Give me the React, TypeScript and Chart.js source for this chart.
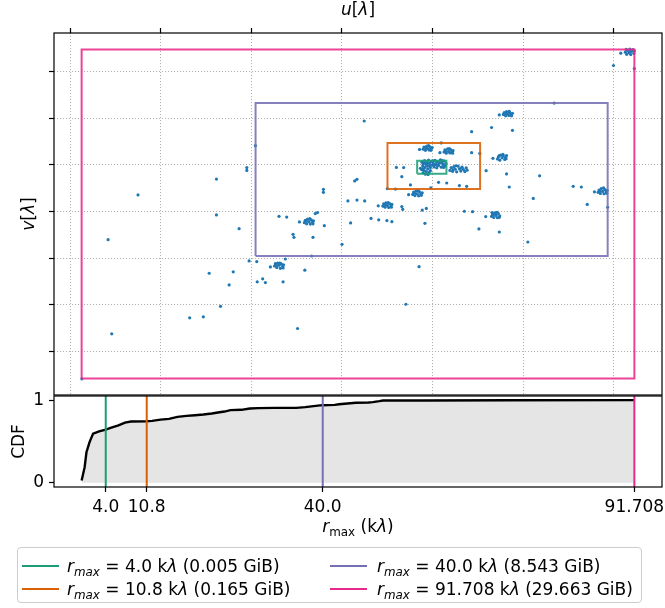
import React, { useEffect, useRef } from 'react';
import { Chart, registerables } from 'chart.js';

Chart.register(...registerables);

const FONT = '"DejaVu Sans", "Liberation Sans", sans-serif';
const FS = 17;

// ---- top panel (uv coverage) ----
const uTicks = [-60, -40, -20, 0, 20, 40, 60];
const vTicks = [-60, -40, -20, 0, 20, 40, 60];

// r_max selections
const rmaxValues = [4.0, 10.8, 40.0, 91.708];
const rmaxLabels = ['4.0', '10.8', '40.0', '91.708'];
const rmaxSizesGiB = ['0.005', '0.165', '8.543', '29.663'];
const rmaxColors = ['#1b9e77', '#d95f02', '#7570b3', '#e7298a'];

// bounding boxes of the uv samples kept for each r_max
const boxUMin = [16.58, 10.03, -19.07, -57.44];
const boxUMax = [23.04, 30.47, 58.61, 64.5];
const boxVMin = [16.2, 9.64, -19.07, -71.66];
const boxVMax = [21.77, 29.36, 46.5, 69.48];

// scattered uv samples [u, v]
const scatteredUV = [
  [-45.0, 7.1], [-27.7, 13.9], [-21.0, 18.8], [-21.0, 17.6], [-19.1, 28.2], [-27.7, -1.5], [4.9, 38.8],
  [21.9, 29.4], [17.1, 26.6], [21.6, 25.2], [12.0, 18.9], [13.6, 18.8], [17.3, 18.5], [13.2, 14.9],
  [21.3, 12.5], [23.1, 12.2], [15.1, 11.4], [19.6, 10.1], [10.0, 9.8], [11.8, 9.6], [25.9, 11.1],
  [27.5, 10.8], [14.7, 7.2], [2.8, 13.1], [3.3, 13.8], [-4.1, 9.5], [-4.1, 8.2], [1.3, 4.5], [3.3, 4.9],
  [5.0, 4.5], [8.0, 2.4], [13.2, 2.1], [13.4, 0.9], [17.7, 0.6], [18.6, 1.3], [-5.9, -0.9], [-5.4, -0.5],
  [61.5, 67.9], [59.9, 62.6], [64.5, 61.3], [46.8, 46.5], [34.7, 41.4], [28.6, 34.2], [33.0, 36.0],
  [37.6, 34.8], [28.6, 25.2], [30.4, 24.9], [33.3, 22.8], [31.8, 17.5], [36.3, 16.1], [43.6, 15.3],
  [36.9, 10.5], [51.0, 10.8], [52.8, 10.5], [42.2, 5.6], [55.7, 8.4], [54.1, 3.0], [58.6, 1.8],
  [27.0, 0.1], [28.8, -0.1], [31.7, -2.2], [30.2, -7.5], [34.7, -8.8], [41.0, -13.1], [-51.6, -12.1],
  [-22.7, -7.4], [-20.5, -21.2], [-18.8, -21.5], [-29.3, -26.5], [-24.0, -25.9], [-24.9, -31.5],
  [-18.7, -30.2], [-17.5, -28.9], [-26.8, -40.7], [-33.6, -45.6], [-30.6, -45.2], [-50.8, -52.5],
  [-57.4, -71.8], [-13.9, -2.1], [-12.2, -2.4], [-9.4, -4.5], [-3.9, -6.1], [1.9, -4.9], [6.4, -3.0],
  [8.1, -3.6], [9.9, -3.9], [11.0, -4.4], [18.3, -5.1], [-10.8, -9.8], [-10.6, -11.1], [-6.4, -11.1],
  [0.0, -14.1], [-6.7, -19.1], [-12.5, -20.4], [-15.8, -23.8], [-8.2, -25.2], [-16.9, -30.5],
  [-13.0, -30.2], [17.0, -23.7], [14.1, -39.8], [-9.8, -50.2],
];

// dense groups of uv samples [u, v]
const groupTopRight = [
  [62.5, 68.3], [62.8, 67.4], [63.0, 69.0], [63.3, 68.1], [63.5, 69.6], [63.7, 67.3], [63.9, 68.7],
  [64.2, 69.4], [64.4, 67.8], [64.5, 68.9], [62.7, 69.5], [63.6, 68.4],
];
const groupUpper = [
  [35.6, 41.6], [35.8, 42.4], [36.1, 41.0], [36.3, 42.8], [36.5, 41.9], [36.8, 41.2], [37.0, 42.5],
  [37.3, 41.7], [37.6, 42.1], [36.0, 41.9], [36.9, 42.9], [37.4, 41.0],
];
const groupA = [
  [17.9, 26.7], [18.1, 27.6], [18.4, 26.2], [18.7, 28.0], [18.9, 27.0], [19.2, 26.4], [19.4, 27.7],
  [19.7, 26.9], [19.9, 27.4], [18.5, 27.3], [19.1, 28.2], [19.6, 26.2],
];
const groupB = [
  [22.5, 25.5], [22.7, 26.4], [23.0, 25.0], [23.3, 26.8], [23.5, 25.7], [23.8, 25.1], [24.0, 26.4],
  [24.3, 25.6], [24.5, 26.1], [22.9, 25.9], [23.7, 27.0], [24.4, 25.0],
];
const groupC = [
  [34.3, 22.5], [34.5, 23.4], [34.8, 22.0], [35.0, 24.2], [35.3, 23.0], [35.6, 23.8], [35.9, 22.3],
  [36.1, 23.2], [36.3, 24.0], [34.7, 24.0], [35.5, 24.5], [36.2, 22.6],
];
const groupCore = [
  [17.6, 21.2], [17.8, 19.6], [17.9, 20.5], [18.2, 21.8], [18.3, 18.9], [18.5, 20.2], [18.7, 21.1],
  [18.9, 19.4], [19.1, 22.0], [19.3, 20.6], [19.5, 18.8], [19.7, 21.5], [19.9, 19.9], [20.1, 20.9],
  [20.3, 19.1], [20.5, 21.9], [20.7, 20.3], [20.9, 18.7], [21.1, 21.3], [21.3, 19.7], [21.5, 20.7],
  [21.7, 22.1], [21.9, 19.0], [22.1, 21.0], [22.3, 20.1], [22.5, 21.7], [22.7, 19.4], [22.9, 20.6],
  [20.0, 21.7], [21.0, 19.8], [18.0, 20.9], [22.0, 21.9], [17.6, 17.9], [17.9, 16.6], [18.1, 17.6],
  [18.4, 16.0], [18.6, 17.1], [18.9, 18.2], [19.2, 16.7], [19.5, 17.5], [17.8, 18.4], [19.0, 15.9],
  [19.4, 19.6], [20.4, 20.0], [21.4, 21.0], [22.4, 18.9], [18.8, 20.6], [20.8, 21.5],
];
const groupD = [
  [23.8, 17.6], [24.1, 18.8], [24.4, 17.2], [24.7, 19.2], [25.0, 18.1], [25.3, 17.0], [25.6, 19.4],
  [25.9, 18.3], [26.2, 17.3], [26.5, 19.0], [26.8, 18.0], [27.1, 17.1], [27.4, 18.7], [27.6, 17.7],
  [25.1, 19.6], [26.3, 18.6], [24.5, 18.0],
];
const groupE = [
  [15.6, 7.3], [15.8, 8.3], [16.1, 6.8], [16.3, 8.7], [16.6, 7.6], [16.9, 6.7], [17.1, 8.4],
  [17.4, 7.5], [17.7, 8.0], [16.0, 7.8], [16.8, 8.9], [17.5, 6.9],
];
const groupF = [
  [9.0, 2.3], [9.2, 3.3], [9.5, 1.8], [9.7, 3.7], [10.0, 2.6], [10.3, 1.7], [10.5, 3.4],
  [10.8, 2.4], [11.0, 3.0], [9.4, 2.8], [10.2, 3.8], [10.9, 1.8],
];
const groupG = [
  [56.5, 8.2], [56.7, 9.2], [57.0, 7.7], [57.2, 9.8], [57.5, 8.6], [57.8, 7.6], [58.0, 9.4],
  [58.3, 8.4], [58.5, 9.0], [56.9, 8.7], [57.7, 10.1], [58.4, 7.8],
];
const groupH = [
  [33.0, -2.1], [33.2, -1.1], [33.5, -2.6], [33.7, -0.6], [34.0, -1.7], [34.3, -2.7], [34.5, -0.9],
  [34.8, -1.9], [33.4, -1.5], [34.2, -0.4], [34.7, -2.5], [33.1, -0.5],
];
const groupI = [
  [-8.3, -4.8], [-8.1, -3.8], [-7.8, -5.3], [-7.6, -3.3], [-7.3, -4.4], [-7.0, -5.4], [-6.8, -3.6],
  [-6.5, -4.6], [-6.3, -4.0], [-7.9, -4.2], [-7.1, -3.1], [-6.4, -5.3],
];
const groupJ = [
  [-14.9, -23.4], [-14.7, -22.4], [-14.4, -24.0], [-14.2, -22.2], [-13.9, -23.1], [-13.6, -24.4],
  [-13.4, -22.5], [-13.1, -23.5], [-12.9, -22.9], [-14.5, -23.0], [-13.7, -22.1], [-13.0, -24.2],
];

// ---- bottom panel (CDF) ----
const cdfR = [0.0, 0.5, 0.8, 1.3, 1.9, 2.9, 4.0, 4.8, 6.1, 7.2, 8.2, 10.7, 11.7, 13.1, 14.5, 15.9, 17.4,
  18.8, 20.2, 21.6, 22.6, 23.7, 24.7, 26.5, 27.9, 29.3, 32.1, 35.6, 37.1, 38.5, 39.9, 42.0, 42.7, 44.1,
  45.5, 47.6, 48.3, 49.4, 50.0, 56.7, 70.8, 91.708];
const cdfP = [0.028, 0.19, 0.37, 0.49, 0.595, 0.623, 0.644, 0.664, 0.696, 0.729, 0.741, 0.745, 0.749,
  0.765, 0.773, 0.798, 0.81, 0.818, 0.826, 0.838, 0.85, 0.862, 0.879, 0.883, 0.899, 0.903, 0.907, 0.907,
  0.915, 0.927, 0.939, 0.943, 0.951, 0.96, 0.968, 0.972, 0.976, 0.988, 0.996, 0.996, 0.998, 1.0];
const cdfTicks = [0, 1];
const cdfTickLabels = ['0', '1'];

type Run = { t: string; it?: boolean; sub?: boolean };

function drawRuns(ctx: CanvasRenderingContext2D, runs: Run[], x: number, y: number, rotate: boolean) {
  ctx.save();
  ctx.translate(x, y);
  if (rotate) ctx.rotate(-Math.PI / 2);
  const fontFor = (r: Run) => `${r.it ? 'italic ' : ''}${r.sub ? FS * 0.7 : FS}px ${FONT}`;
  let w = 0;
  for (const r of runs) {
    ctx.font = fontFor(r);
    w += ctx.measureText(r.t).width;
  }
  let cx = -w / 2;
  ctx.textAlign = 'left';
  ctx.textBaseline = 'alphabetic';
  ctx.fillStyle = '#000';
  for (const r of runs) {
    ctx.font = fontFor(r);
    ctx.fillText(r.t, cx, r.sub ? FS * 0.24 : 0);
    cx += ctx.measureText(r.t).width;
  }
  ctx.restore();
}

const framePlugin = {
  id: 'frame',
  afterDraw(chart: any) {
    const { ctx, chartArea: a } = chart;
    ctx.save();
    ctx.strokeStyle = '#000';
    ctx.lineWidth = 1.2;
    ctx.strokeRect(a.left, a.top, a.right - a.left, a.bottom - a.top);
    ctx.restore();
  },
};

const topTitlesPlugin = {
  id: 'topTitles',
  afterDraw(chart: any) {
    const { ctx, chartArea: a } = chart;
    drawRuns(ctx, [{ t: 'u', it: true }, { t: '[' }, { t: 'λ', it: true }, { t: ']' }], (a.left + a.right) / 2, a.top - 18.5, false);
    drawRuns(ctx, [{ t: 'v', it: true }, { t: '[' }, { t: 'λ', it: true }, { t: ']' }], a.left - 20, (a.top + a.bottom) / 2, true);
  },
};

const bottomTitlesPlugin = {
  id: 'bottomTitles',
  afterDraw(chart: any) {
    const { ctx, chartArea: a } = chart;
    drawRuns(ctx, [{ t: 'CDF' }], a.left - 30.5, (a.top + a.bottom) / 2, true);
    drawRuns(ctx, [{ t: 'r', it: true }, { t: 'max', sub: true }, { t: ' (k' }, { t: 'λ', it: true }, { t: ')' }], (a.left + a.right) / 2, a.bottom + 45, false);
  },
};

const vLinesPlugin = {
  id: 'vlines',
  afterDatasetsDraw(chart: any) {
    const { ctx, chartArea: a, scales } = chart;
    ctx.save();
    rmaxValues.forEach((r, i) => {
      const x = scales.x.getPixelForValue(r);
      ctx.strokeStyle = rmaxColors[i];
      ctx.lineWidth = 2;
      ctx.beginPath();
      ctx.moveTo(x, a.top);
      ctx.lineTo(x, a.bottom);
      ctx.stroke();
    });
    ctx.restore();
  },
};

const toXY = (arr: number[][]) => arr.map(([x, y]) => ({ x, y }));

export default function App() {
  const topRef = useRef<HTMLCanvasElement>(null);
  const botRef = useRef<HTMLCanvasElement>(null);

  useEffect(() => {
    const last = boxUMin.length - 1;
    const uSpan = boxUMax[last] - boxUMin[last];
    const vSpan = boxVMax[last] - boxVMin[last];
    const uLo = boxUMin[last] - 0.05 * uSpan;
    const uHi = boxUMax[last] + 0.05 * uSpan;
    const vLo = boxVMin[last] - 0.05 * vSpan;
    const vHi = boxVMax[last] + 0.05 * vSpan;

    const allPoints = [
      ...scatteredUV, ...groupTopRight, ...groupUpper, ...groupA, ...groupB, ...groupC, ...groupCore,
      ...groupD, ...groupE, ...groupF, ...groupG, ...groupH, ...groupI, ...groupJ,
    ];

    const boxDatasets = rmaxValues.map((_, i) => ({
      data: [
        { x: boxUMin[i], y: boxVMin[i] },
        { x: boxUMax[i], y: boxVMin[i] },
        { x: boxUMax[i], y: boxVMax[i] },
        { x: boxUMin[i], y: boxVMax[i] },
        { x: boxUMin[i], y: boxVMin[i] },
      ],
      showLine: true,
      borderColor: rmaxColors[i] + 'e0',
      borderWidth: 2,
      borderJoinStyle: 'miter' as const,
      pointRadius: 0,
      pointHoverRadius: 0,
      fill: false,
      tension: 0,
      order: 0,
    }));

    const gridCommon = { color: '#b0b0b0', lineWidth: 1, tickColor: '#000', tickWidth: 1.2, tickLength: 5 };

    const top = new Chart(topRef.current!, {
      type: 'scatter',
      data: {
        datasets: [
          ...boxDatasets,
          {
            data: toXY(allPoints),
            pointRadius: 1.6,
            pointHoverRadius: 1.6,
            pointBorderWidth: 0,
            pointBackgroundColor: '#1f77b4',
            backgroundColor: '#1f77b4',
            order: 1,
          },
        ] as any,
      },
      options: {
        responsive: false,
        animation: false,
        events: [],
        layout: { padding: { left: 0, top: 0, right: 3, bottom: 5 }, autoPadding: false },
        plugins: { legend: { display: false }, tooltip: { enabled: false }, title: { display: false } },
        scales: {
          x: {
            type: 'linear',
            position: 'top',
            min: uLo,
            max: uHi,
            afterBuildTicks: (s: any) => { s.ticks = uTicks.map((value) => ({ value })); },
            ticks: { display: false },
            grid: gridCommon,
            border: { display: false, dash: [1.1, 1.9] },
            afterFit: (s: any) => { s.height = 33; s.paddingLeft = 0; s.paddingRight = 0; },
          },
          y: {
            type: 'linear',
            position: 'left',
            min: vLo,
            max: vHi,
            afterBuildTicks: (s: any) => { s.ticks = vTicks.map((value) => ({ value })); },
            ticks: { display: false },
            grid: gridCommon,
            border: { display: false, dash: [1.1, 1.9] },
            afterFit: (s: any) => { s.width = 54; s.paddingTop = 0; s.paddingBottom = 0; },
          },
        },
      } as any,
      plugins: [framePlugin, topTitlesPlugin],
    });

    const rSpan = cdfR[cdfR.length - 1] - cdfR[0];
    const tickFont = { family: FONT, size: FS };
    const bottom = new Chart(botRef.current!, {
      type: 'line',
      data: {
        datasets: [
          {
            data: cdfR.map((r, i) => ({ x: r, y: cdfP[i] })),
            borderColor: '#000',
            borderWidth: 2.4,
            pointRadius: 0,
            pointHoverRadius: 0,
            fill: 'origin',
            backgroundColor: '#e5e5e5',
            tension: 0,
          },
        ],
      },
      options: {
        responsive: false,
        animation: false,
        events: [],
        layout: { padding: { left: 0, top: 16, right: 3, bottom: 0 }, autoPadding: false },
        plugins: { legend: { display: false }, tooltip: { enabled: false }, title: { display: false } },
        scales: {
          x: {
            type: 'linear',
            position: 'bottom',
            min: cdfR[0] - 0.05 * rSpan,
            max: cdfR[cdfR.length - 1] + 0.05 * rSpan,
            afterBuildTicks: (s: any) => { s.ticks = rmaxValues.map((value) => ({ value })); },
            ticks: {
              autoSkip: false,
              maxRotation: 0,
              minRotation: 0,
              padding: 5,
              color: '#000',
              font: tickFont,
              callback: (_v: any, i: number) => rmaxLabels[i],
            },
            grid: { ...gridCommon, drawOnChartArea: false },
            border: { display: false },
            afterFit: (s: any) => { s.height = 63; s.paddingLeft = 0; s.paddingRight = 0; },
          },
          y: {
            type: 'linear',
            position: 'left',
            min: -0.05,
            max: 1.05,
            afterBuildTicks: (s: any) => { s.ticks = cdfTicks.map((value) => ({ value })); },
            ticks: {
              padding: 5,
              color: '#000',
              font: tickFont,
              callback: (_v: any, i: number) => cdfTickLabels[i],
            },
            grid: { ...gridCommon, drawOnChartArea: false },
            border: { display: false },
            afterFit: (s: any) => { s.width = 54; s.paddingTop = 0; s.paddingBottom = 0; },
          },
        },
      } as any,
      plugins: [vLinesPlugin, framePlugin, bottomTitlesPlugin],
    });

    return () => {
      top.destroy();
      bottom.destroy();
    };
  }, []);

  const colHandleLeft = [22, 329.5];
  const colTextLeft = [67, 377];
  const rowCenter = [566, 589];
  const legLeft = 17;
  const legTop = 547;

  return (
    <div
      style={{
        position: 'fixed', left: 0, top: 0, width: 665, height: 608, background: '#fff',
        overflow: 'hidden', fontFamily: FONT,
      }}
    >
      <canvas ref={topRef} width={665} height={400} style={{ position: 'absolute', left: 0, top: 0, width: 665, height: 400 }} />
      <canvas ref={botRef} width={665} height={170} style={{ position: 'absolute', left: 0, top: 380, width: 665, height: 170 }} />
      <div
        style={{
          position: 'absolute', left: legLeft, top: legTop, width: 625, height: 56, boxSizing: 'border-box',
          border: '1px solid #cccccc', borderRadius: 4, background: 'rgba(255,255,255,0.8)',
        }}
      />
      {rmaxValues.map((_, i) => {
        const col = Math.floor(i / 2);
        const row = i % 2;
        return (
          <React.Fragment key={i}>
            <div
              style={{
                position: 'absolute', left: colHandleLeft[col], top: rowCenter[row] - 1.25, width: 37, height: 2.5,
                background: rmaxColors[i],
              }}
            />
            <div
              style={{
                position: 'absolute', left: colTextLeft[col], top: rowCenter[row] - 10, height: 20, lineHeight: '20px',
                fontSize: FS, whiteSpace: 'nowrap', color: '#000',
              }}
            >
              <span style={{ fontStyle: 'italic' }}>r</span>
              <span style={{ fontStyle: 'italic', fontSize: '0.7em', position: 'relative', top: '0.3em' }}>max</span>
              {` = ${rmaxLabels[i]} k`}
              <span style={{ fontStyle: 'italic' }}>λ</span>
              {` (${rmaxSizesGiB[i]} GiB)`}
            </div>
          </React.Fragment>
        );
      })}
    </div>
  );
}
